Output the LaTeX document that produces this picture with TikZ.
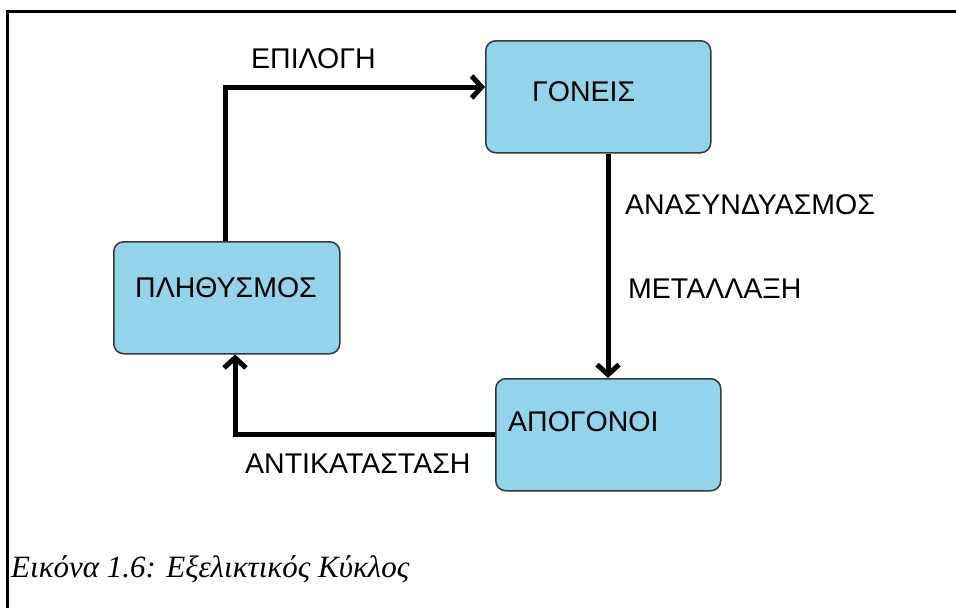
\documentclass[tikz,border=0pt]{standalone}
\usepackage{fontspec}
\setmainfont{Liberation Sans}
\newfontfamily\captionserif{Liberation Serif}
\usetikzlibrary{arrows.meta}
\definecolor{boxblue}{RGB}{148,212,234}
\definecolor{boxedge}{RGB}{55,55,60}
\tikzset{
  stagebox/.style={draw=boxedge, line width=1.5pt, fill=boxblue, rounded corners=10pt,
    minimum width=#1, minimum height=112pt, inner sep=0pt, anchor=north west},
  stagebox/.default=225pt,
  greeklabel/.style={inner sep=0pt, anchor=west, font=\fontsize{28.5}{30}\selectfont},
  flow/.style={line width=5pt, line join=miter, -{Straight Barb[length=10pt,width=22pt,line width=5pt]}},
  frameline/.style={line width=3pt}
}
\begin{document}
\begin{tikzpicture}[x=1pt, y=-1pt]
  \useasboundingbox (0,0) rectangle (956,608);
  % open frame: top and left edges only
  \coordinate (frametop) at (956,11.5);
  \coordinate (framecorner) at (7,11.5);
  \coordinate (framebottom) at (7,608);
  \draw[frameline] (frametop) -- (framecorner) -- (framebottom);

  % stages of the cycle
  \node[stagebox] (parents) at (485,40) {};
  \node[stagebox=226pt] (population) at (113,241) {};
  \node[stagebox] (offspring) at (495,378) {};

  \node[greeklabel] (parentsT) at (532,91.5) {ΓΟΝΕΙΣ};
  \node[greeklabel] (populationT) at (135,287.5) {ΠΛΗΘΥΣΜΟΣ};
  \node[greeklabel] (offspringT) at (508,421.5) {ΑΠΟΓΟΝΟΙ};

  % operator labels
  \node[greeklabel] (selT) at (251,58.5) {ΕΠΙΛΟΓΗ};
  \node[greeklabel] (recT) at (625,205) {ΑΝΑΣΥΝΔΥΑΣΜΟΣ};
  \node[greeklabel] (mutT) at (628,289) {ΜΕΤΑΛΛΑΞΗ};
  \node[greeklabel] (repT) at (245,464) {ΑΝΤΙΚΑΤΑΣΤΑΣΗ};

  % connectors
  \draw[flow] (population.north -| 225,0) |- (parents.west |- 0,87);
  \draw[flow] (parents.south -| 608,0) -- (offspring.north -| 608,0);
  \draw[flow] (offspring.west |- 0,434) -| (population.south -| 235,0);

  % caption
  \node[inner sep=0pt, anchor=base west] (caption) at (11,577)
    {\captionserif\itshape\fontsize{31}{33}\selectfont Εικόνα 1.6: Εξελικτικός Κύκλος};
\end{tikzpicture}
\end{document}
